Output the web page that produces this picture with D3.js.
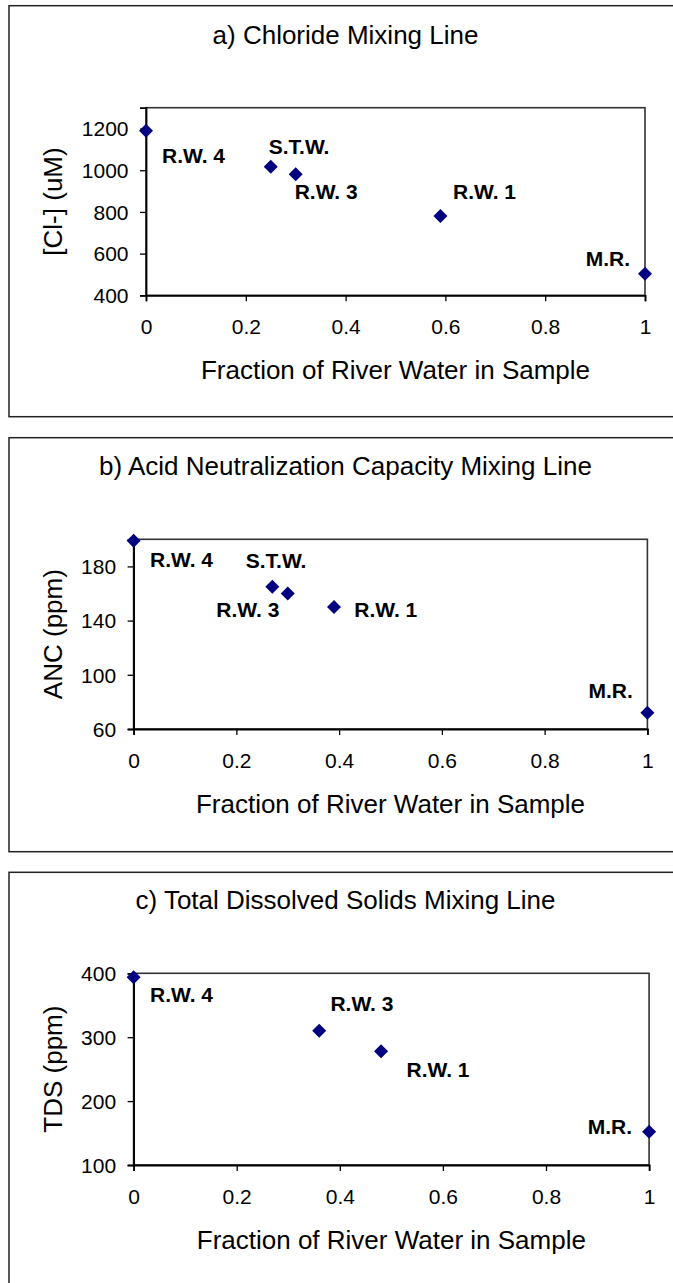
<!DOCTYPE html>
<html>
<head>
<meta charset="utf-8">
<script src="https://cdn.jsdelivr.net/npm/d3@7"></script>
<style>
  html, body { margin: 0; padding: 0; background: #fff; }
  svg { display: block; }
  text { font-family: "Liberation Sans", Arial, sans-serif; fill: #000; }
</style>
</head>
<body>
<svg id="chart" width="673" height="1283"></svg>
<script>
// ---------------- data ----------------
const xTickValues = [0, 0.2, 0.4, 0.6, 0.8, 1];

const titleA = "a) Chloride Mixing Line";
const yTitleA = "[Cl-] (uM)";
const siteA = ["R.W. 4", "S.T.W.", "R.W. 3", "R.W. 1", "M.R."];
const fractionA = [0, 0.25, 0.30, 0.59, 1.0];
const chlorideA = [1190, 1017, 981, 780, 503];
const yTicksA = [400, 600, 800, 1000, 1200];
const yDomainA = [400, 1300];

const titleB = "b) Acid Neutralization Capacity Mixing Line";
const yTitleB = "ANC (ppm)";
const siteB = ["R.W. 4", "S.T.W.", "R.W. 3", "R.W. 1", "M.R."];
const fractionB = [0, 0.27, 0.30, 0.39, 1.0];
const ancB = [199, 165, 160, 150, 72];
const yTicksB = [60, 100, 140, 180];
const yDomainB = [60, 200];

const titleC = "c) Total Dissolved Solids Mixing Line";
const yTitleC = "TDS (ppm)";
const siteC = ["R.W. 4", "R.W. 3", "R.W. 1", "M.R."];
const fractionC = [0, 0.36, 0.48, 1.0];
const tdsC = [394, 310, 278, 152];
const yTicksC = [100, 200, 300, 400];
const yDomainC = [100, 400];

const xTitle = "Fraction of River Water in Sample";

// ---------------- layout (positions / styles) ----------------
const layoutA = { box: [9, 5.7, 700, 416.7], plot: [146, 107.7, 645, 295.3],
  labelOffsets: [[16, 32.5, "start"], [-2, -13, "start"], [-1, 25, "start"], [12.6, -17.5, "start"], [-15, -7.5, "end"]] };
const layoutB = { box: [9, 437.7, 700, 851.7], plot: [133.6, 539.3, 647.4, 729],
  labelOffsets: [[16.4, 26.8, "start"], [-26.6, -19.2, "start"], [-8.4, 23.8, "end"], [20.3, 9.8, "start"], [-14.6, -14.8, "end"]] };
const layoutC = { box: [9, 872.3, 700, 1300], plot: [133.6, 973.3, 649.1, 1165],
  labelOffsets: [[16.4, 24.8, "start"], [11.2, -19.9, "start"], [25.5, 25.8, "start"], [-17.1, 1.8, "end"]] };

const panels = [
  { title: titleA, yTitle: yTitleA, sites: siteA, xs: fractionA, ys: chlorideA, yTicks: yTicksA, yDomain: yDomainA, layout: layoutA },
  { title: titleB, yTitle: yTitleB, sites: siteB, xs: fractionB, ys: ancB, yTicks: yTicksB, yDomain: yDomainB, layout: layoutB },
  { title: titleC, yTitle: yTitleC, sites: siteC, xs: fractionC, ys: tdsC, yTicks: yTicksC, yDomain: yDomainC, layout: layoutC }
];

const svg = d3.select("#chart");
const markerColor = "#000080";
const diamond = d3.symbol().type(d3.symbolSquare).size(98);

panels.forEach(p => {
  const L = p.layout;
  const [bx0, by0, bx1, by1] = L.box;
  const [px0, py0, px1, py1] = L.plot;

  // outer chart box
  svg.append("rect")
    .attr("x", bx0).attr("y", by0)
    .attr("width", bx1 - bx0).attr("height", by1 - by0)
    .attr("fill", "none").attr("stroke", "#222").attr("stroke-width", 1.5);

  const x = d3.scaleLinear().domain([0, 1]).range([px0, px1]);
  const y = d3.scaleLinear().domain(p.yDomain).range([py1, py0]);

  const g = svg.append("g");

  // plot frame
  g.append("rect")
    .attr("x", px0).attr("y", py0)
    .attr("width", px1 - px0).attr("height", py1 - py0)
    .attr("fill", "none").attr("stroke", "#333").attr("stroke-width", 1.6);

  // x axis
  const xAxis = g.append("g")
    .attr("transform", `translate(0,${py1})`)
    .call(d3.axisBottom(x).tickValues(xTickValues).tickSize(6).tickPadding(0).tickFormat(d => String(d)));
  xAxis.select(".domain").attr("stroke", "#000").attr("stroke-width", 1.8);
  xAxis.selectAll(".tick line").attr("stroke", "#000").attr("stroke-width", 1.3);
  xAxis.selectAll(".tick text")
    .attr("y", 31.4).attr("dy", "0.35em")
    .style("font-size", "21px").style("font-family", "Liberation Sans, Arial, sans-serif").attr("fill", "#000");

  // y axis
  const yAxis = g.append("g")
    .attr("transform", `translate(${px0},0)`)
    .call(d3.axisLeft(y).tickValues(p.yTicks).tickSize(6).tickPadding(0).tickFormat(d => String(d)));
  yAxis.select(".domain").attr("stroke", "#000").attr("stroke-width", 1.8);
  yAxis.selectAll(".tick line").attr("stroke", "#000").attr("stroke-width", 1.3);
  yAxis.selectAll(".tick text")
    .attr("x", -17.5).attr("dy", "0.35em")
    .style("font-size", "21px").style("font-family", "Liberation Sans, Arial, sans-serif").attr("fill", "#000");

  // chart title (centered on the outer box)
  svg.append("text")
    .attr("x", (bx0 + 682) / 2).attr("y", py0 - 73)
    .attr("dy", "0.35em")
    .attr("text-anchor", "middle")
    .style("font-size", "26px")
    .text(p.title);

  // x axis title
  svg.append("text")
    .attr("x", (px0 + px1) / 2).attr("y", py1 + 75)
    .attr("dy", "0.35em")
    .attr("text-anchor", "middle")
    .style("font-size", "26px")
    .text(xTitle);

  // y axis title
  svg.append("text")
    .attr("transform", `translate(53,${(py0 + py1) / 2}) rotate(-90)`)
    .attr("dy", "0.35em")
    .attr("text-anchor", "middle")
    .style("font-size", "26px")
    .text(p.yTitle);

  // points
  const pts = p.xs.map((xv, i) => ({ x: xv, y: p.ys[i], site: p.sites[i], off: L.labelOffsets[i] }));

  g.selectAll("path.pt").data(pts).join("path")
    .attr("class", "pt")
    .attr("d", diamond)
    .attr("transform", d => `translate(${x(d.x)},${y(d.y)}) rotate(45)`)
    .attr("fill", markerColor);

  g.selectAll("text.lbl").data(pts).join("text")
    .attr("class", "lbl")
    .attr("x", d => x(d.x) + d.off[0])
    .attr("y", d => y(d.y) + d.off[1])
    .attr("text-anchor", d => d.off[2])
    .style("font-size", "21px")
    .style("font-weight", "bold")
    .text(d => d.site);
});
</script>
</body>
</html>
